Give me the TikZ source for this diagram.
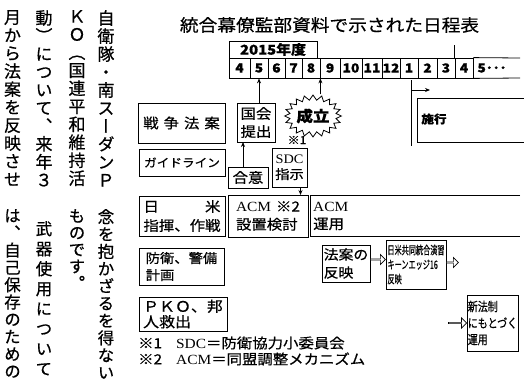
\documentclass[tikz,border=0pt]{standalone}
\usepackage{fontspec}
\setmainfont{Noto Sans CJK JP}[FakeStretch=1.1,FakeBold=0.6]
\newfontfamily\jpv{Noto Sans CJK JP}[RawFeature=+vert,FakeBold=0.6]
\newfontfamily\jpc{Noto Sans CJK JP}[FakeStretch=0.62,FakeBold=0.5]
\newfontfamily\jpn{Noto Sans CJK JP}[FakeStretch=0.8,FakeBold=0.5]
\newfontfamily\romf{Liberation Serif}[FakeStretch=1.1]
\usetikzlibrary{shapes.symbols,shapes.arrows,arrows.meta}
\newcommand\setsz[2]{\fontsize{#1}{#2}\selectfont}
\tikzset{
  box/.style={draw, line width=0.8pt, inner sep=0pt, outer sep=0pt, align=left},
  cell/.style={draw, line width=0.8pt, inner sep=0pt, minimum height=20pt, font=\bfseries\setsz{12.5}{13}},
  vcol/.style={anchor=north, inner sep=0pt, align=center},
  arr/.style={line width=0.8pt, -{Stealth[length=5pt,width=4pt]}},
  harrow/.style={single arrow, draw, line width=0.7pt, fill=white, minimum height=15pt,
    minimum width=10pt, single arrow head extend=2.5pt, inner sep=0pt},
  frame/.style={line width=0.8pt}
}
\begin{document}
\begin{tikzpicture}[x=1pt,y=-1pt]
\useasboundingbox (0,0) rectangle (524,383);
\fill[white] (0,0) rectangle (524,383);

% ---- vertical newspaper text ----
\node[vcol, font=\jpv\setsz{17}{18}] (c1a) at (106,10) {自\\衛\\隊\\・\\南\\ス\\ー\\ダ\\ン\\Ｐ};
\node[vcol, font=\jpv\setsz{16.5}{17.3}] (c1b) at (106,209) {念\\を\\抱\\か\\ざ\\る\\を\\得\\な\\い};
\node[vcol, font=\jpv\setsz{17}{18}] (c2a) at (77,10) {Ｋ\\Ｏ\\（\\国\\連\\平\\和\\維\\持\\活};
\node[vcol, font=\jpv\setsz{16.5}{16.8}] (c2b) at (77,209) {も\\の\\で\\す\\。};
\node[vcol, font=\jpv\setsz{17}{18}] (c3a) at (44,10) {動\\）\\に\\つ\\い\\て\\、\\来\\年\\３};
\node[vcol, font=\jpv\setsz{16.5}{20}] (c3b) at (44,221) {武\\器\\使\\用\\に\\つ\\い\\て};
\node[vcol, font=\jpv\setsz{17}{18}] (c4a) at (12.5,10) {月\\か\\ら\\法\\案\\を\\反\\映\\さ\\せ};
\node[vcol, font=\jpv\setsz{16.5}{17.3}] (c4b) at (12.5,209) {は\\、\\自\\己\\保\\存\\の\\た\\め\\の};

% ---- title ----
\node[inner sep=0pt, font=\setsz{17}{17}] (title) at (329.5,25) {統合幕僚監部資料で示された日程表};

% ---- fiscal year and months ----
\node[box, minimum width=88pt, minimum height=17pt, font=\bfseries\setsz{13.5}{14}] (fy) at (273,49.5) {2015年度};
\foreach \l/\r/\t [count=\i] in {229/250/4,250/268/5,268/285/6,285/302/7,302/320/8,320/340/9,
  340/362/10,362/382/11,382/400/12,400/418/1,418/437/2,437/455/3,455/473/4}
  \node[cell, minimum width={\r-\l}] (m\i) at ({(\l+\r)/2},68) {\t};
\node[inner sep=0pt, font=\bfseries\setsz{12.5}{13}] (m14) at (492,68) {5･･･};
\draw[frame] (m13.north east) -- (520,58);
\draw[frame] (m13.south east) -- (520,78);
\draw[frame] (m13.north west) -- ++(0,-13);

% ---- category boxes ----
\node[box, minimum width=87pt, minimum height=40pt, font=\setsz{14}{14}] (senso) at (181.5,123) {戦\kern5pt 争\kern5pt 法\kern5pt 案};
\node[box, minimum width=86pt, minimum height=27pt, font=\setsz{11.5}{12}] (guide) at (182,162.5) {ガイドライン};
\node[box, minimum width=86pt, minimum height=40pt, font=\setsz{14}{19}] (nichibei) at (182,216) {\makebox[77pt]{日\hfill{}米}\\指揮、作戦};
\node[box, minimum width=85pt, minimum height=37pt, font=\setsz{13}{17}] (boei) at (181.5,266.5) {防衛、警備\\計画};
\node[box, minimum width=88pt, minimum height=34pt, font=\setsz{14.5}{15.5}] (pko) at (183,314) {ＰＫＯ、邦\\人救出};

% ---- timeline items ----
\node[box, minimum width=38pt, minimum height=39pt, font=\setsz{14}{18}] (kokkai) at (256,122.5) {国会\\提出};
\node[box, minimum width=40pt, minimum height=21pt, font=\setsz{14}{14}] (goi) at (248,177.5) {合意};
\node[box, align=center, minimum width=35pt, minimum height=39pt, font=\setsz{13}{15.5}] (sdc) at (289.5,167.5) {{\romf SDC}\\指示};
\node[inner sep=0pt, font=\setsz{11}{11}] (n1) at (297,140) {※1};
\node[starburst, draw, line width=0.8pt, fill=white, starburst points=20, starburst point height=5pt,
  random starburst=0, minimum width=52pt, minimum height=42pt, inner sep=0pt,
  font=\bfseries\setsz{15}{15}] (seiritsu) at (313,116) {成立};

\draw[arr] (kokkai.north -| m2.south) -- (m2.south);
\coordinate (g1) at ([xshift=-5pt]goi.north);
\draw[arr] (g1) -- (g1 |- kokkai.south);
\coordinate (s1) at ([xshift=11pt]sdc.south);
\coordinate (s2) at (s1 |- 0,195);
\draw[arr] (s1) -- (s2);
\draw[arr] (seiritsu.north -| m5.south east) -- (m5.south east);

% ---- 施行 ----
\coordinate (shtop) at (411,80);
\coordinate (shbot) at (411,146);
\draw[frame] (shtop) -- (shbot);
\coordinate (sa) at (411,90);
\coordinate (sb) at (430,90);
\draw[arr] (sa) -- (sb);
\draw[frame] (524,98) -- (417,98) -- (417,142) -- (524,142);
\node[inner sep=0pt, font=\bfseries\setsz{11.5}{12}] (shiko) at (434,119) {施行};

% ---- ACM ----
\node[box, minimum width=80pt, minimum height=42pt, font=\setsz{14}{18}] (acm1) at (268,216) {\makebox[64pt]{{\romf ACM}\hfill{}※2}\\設置検討};
\draw[frame] (520,195) -- (310,195) -- (310,236) -- (520,236);
\node[anchor=west, inner sep=0pt, align=left, font=\setsz{14}{18}] (acm2) at (313,216) {{\romf ACM}\\運用};

% ---- lower chain ----
\node[box, minimum width=48pt, minimum height=37pt, font=\setsz{13.5}{18}] (hoan) at (346,263.5) {法案の\\反映};
\node[box, minimum width=60pt, minimum height=49pt, font=\jpc\setsz{11.5}{14.5}] (kyodo) at (416,264.5) {日米共同統合演習\\キーンエッジ16\\反映};
\node[box, minimum width=51pt, minimum height=56pt, font=\jpn\setsz{12.5}{16.5}] (shin) at (492.5,323) {新法制\\にもとづく\\運用};
\node[harrow, anchor=west] (a1) at ([yshift=4pt]hoan.east) {};
\node[harrow, anchor=west, minimum height=12pt] (a2) at ([yshift=2pt]kyodo.east) {};
\node[harrow, anchor=east, minimum height=18pt] (a3) at (shin.west) {};

% ---- footnotes ----
\node[anchor=west, inner sep=0pt, font=\setsz{14}{14}] (fn1) at (138,343) {※1\quad{\romf SDC}＝防衛協力小委員会};
\node[anchor=west, inner sep=0pt, font=\setsz{14}{14}] (fn2) at (138,359) {※2\quad{\romf ACM}＝同盟調整メカニズム};
\end{tikzpicture}
\end{document}
